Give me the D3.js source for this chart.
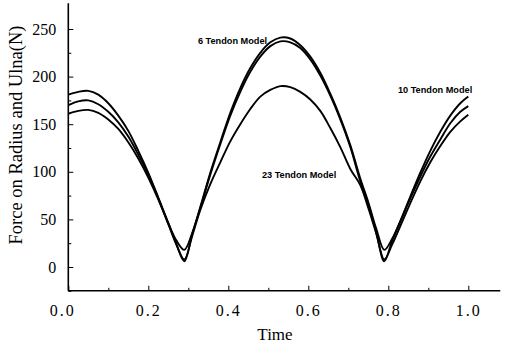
<!DOCTYPE html>
<html>
<head>
<meta charset="utf-8">
<script src="https://cdn.jsdelivr.net/npm/d3@7"></script>
<style>
  body { margin: 0; background: #fff; }
  svg text { fill: #000; }
</style>
</head>
<body>
<div id="chart"></div>
<script>
// sample times
const times = [0, 0.025, 0.05, 0.075, 0.1, 0.125, 0.15, 0.175, 0.2, 0.225, 0.25, 0.27, 0.29,
  0.31, 0.33, 0.355, 0.38, 0.405, 0.43, 0.455, 0.48, 0.505, 0.53, 0.555, 0.58, 0.605, 0.63,
  0.655, 0.68, 0.705, 0.73, 0.75, 0.77, 0.79,
  0.81, 0.83, 0.855, 0.88, 0.905, 0.93, 0.955, 0.98, 1.0];

const tendon10 = [181, 184, 185, 181, 172, 159, 143, 122, 99, 73, 46, 24, 6,
  35, 62, 97, 129, 159, 184, 205, 221, 232, 237, 236, 230, 218, 201,
  180, 155, 126, 90, 66, 36, 6,
  28, 48, 74, 99, 122, 142, 159, 172, 179];
const tendon6 = [170, 174, 175, 171, 163, 152, 137, 118, 97, 72, 46, 28, 18,
  36, 63, 99, 131, 162, 188, 209, 225, 236, 241, 240, 233, 221, 204,
  182, 157, 128, 93, 68, 40, 18,
  30, 48, 72, 95, 116, 134, 151, 163, 169];
const tendon23 = [161, 164, 165, 162, 155, 145, 131, 114, 94, 71, 45, 24, 8,
  33, 60, 87, 110, 132, 150, 166, 179, 186, 190, 189, 184, 176, 164,
  146, 126, 103, 86, 62, 35, 8,
  24, 43, 67, 90, 110, 127, 142, 153, 160];

const seriesNames = ["10 Tendon Model", "6 Tendon Model", "23 Tendon Model"];
const seriesValues = [tendon10, tendon6, tendon23];

const yTicks = [0, 50, 100, 150, 200, 250];
const yMinorTicks = [-25, 25, 75, 125, 175, 225];
const xTicks = [0, 0.2, 0.4, 0.6, 0.8, 1.0];
const xMinorTicks = [0.1, 0.3, 0.5, 0.7, 0.9];
const xTickLabels = ["0.0", "0.2", "0.4", "0.6", "0.8", "1.0"];

// label anchors in data units [time, force]
const labelAt = {
  "6 Tendon Model": [0.324, 234],
  "10 Tendon Model": [0.824, 183],
  "23 Tendon Model": [0.484, 94]
};

const width = 507, height = 343;
const svg = d3.select("#chart").append("svg")
  .attr("width", width).attr("height", height);

const x = d3.scaleLinear().domain([0, 1.08]).range([68.3, 500.3]);
const y = d3.scaleLinear().domain([-25, 275]).range([290.8, 5.2]);

const serif = "'Liberation Serif', 'DejaVu Serif', serif";

// axes
const xAxis = svg.append("g").attr("transform", `translate(0,${y(-25)})`)
  .call(d3.axisBottom(x).tickValues(xTicks).tickSize(-5)
    .tickFormat((d, i) => xTickLabels[i]).tickPadding(14));
xAxis.select(".domain").attr("d", `M${x(0)},0H${x(1.08)}`).attr("stroke-width", 1.6);
xAxis.selectAll(".tick text")
  .attr("dx", (d, i) => i === 0 ? -6 : 0)
  .style("font-family", serif).style("font-size", "16px")
  .style("letter-spacing", "2px");
svg.append("g").attr("transform", `translate(0,${y(-25)})`)
  .call(d3.axisBottom(x).tickValues(xMinorTicks).tickSize(-3).tickFormat(""))
  .select(".domain").remove();

const yAxis = svg.append("g").attr("transform", `translate(${x(0)},0)`)
  .call(d3.axisLeft(y).tickValues(yTicks).tickSize(-5).tickPadding(12));
yAxis.select(".domain").attr("d", `M0,${y(-25)}V${y(277)}`).attr("stroke-width", 1.6);
yAxis.selectAll(".tick text")
  .style("font-family", serif).style("font-size", "16px");
svg.append("g").attr("transform", `translate(${x(0)},0)`)
  .call(d3.axisLeft(y).tickValues(yMinorTicks).tickSize(-3).tickFormat(""))
  .select(".domain").remove();

// axis titles
svg.append("text")
  .attr("x", 275).attr("y", 340)
  .attr("text-anchor", "middle")
  .style("font-family", serif).style("font-size", "17px")
  .text("Time");
svg.append("text")
  .attr("transform", `translate(22,${135}) rotate(-90)`)
  .attr("text-anchor", "middle")
  .style("font-family", serif).style("font-size", "18.5px")
  .text("Force on Radius and Ulna(N)");

// curves
const line = d3.line()
  .x(d => x(d[0])).y(d => y(d[1]))
  .curve(d3.curveCatmullRom.alpha(0.5));

svg.append("g").selectAll("path")
  .data(seriesValues)
  .join("path")
  .attr("d", vals => line(times.map((t, i) => [t, vals[i]])))
  .attr("fill", "none")
  .attr("stroke", "#000")
  .attr("stroke-width", 1.9);

// labels
svg.append("g").selectAll("text")
  .data(seriesNames)
  .join("text")
  .attr("x", d => x(labelAt[d][0]))
  .attr("y", d => y(labelAt[d][1]))
  .style("font-family", "'Liberation Sans', Arial, sans-serif")
  .style("font-weight", "bold")
  .style("font-size", "9.2px")
  .text(d => d);
</script>
</body>
</html>
